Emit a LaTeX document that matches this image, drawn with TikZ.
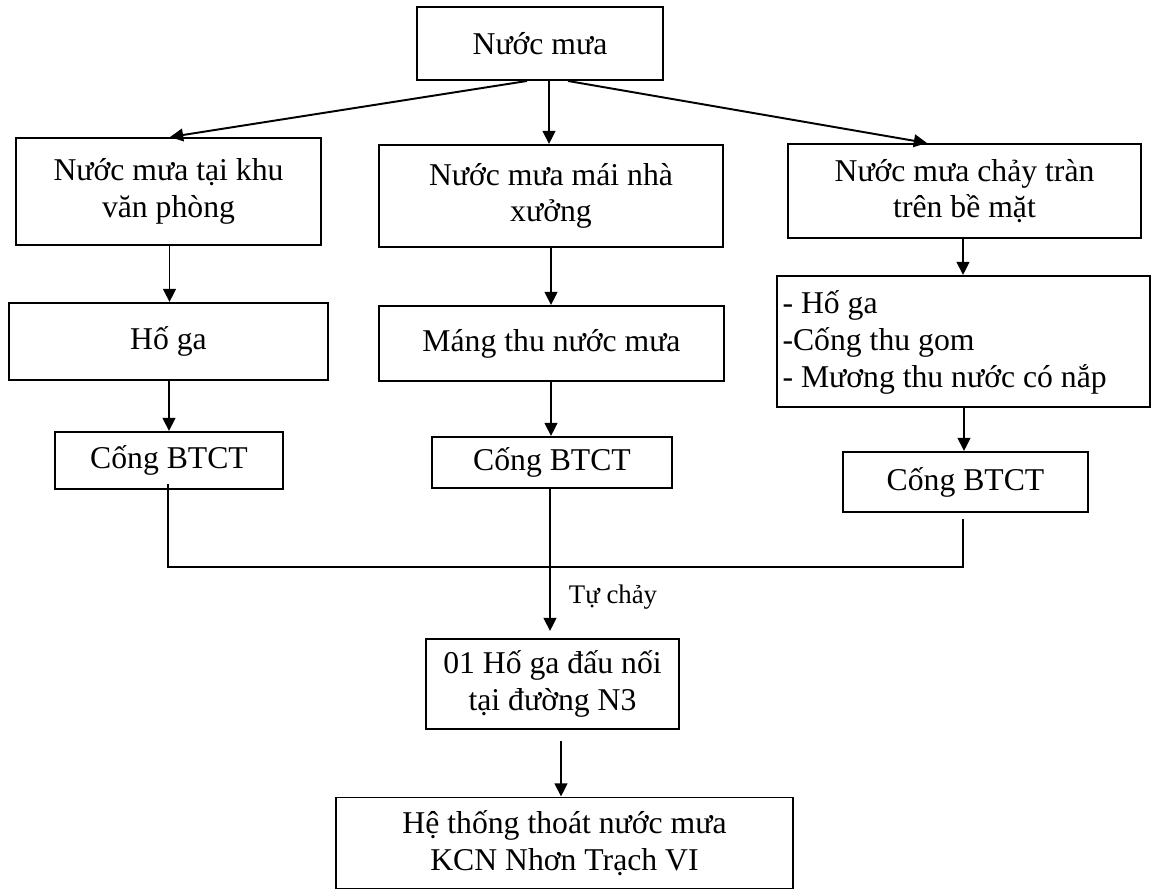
\documentclass[tikz,border=0pt]{standalone}
\usepackage{fontspec}
\setmainfont{Liberation Serif}
\usetikzlibrary{calc,arrows.meta}
% one drawing unit
\def\pxu{0.41pt}
\tikzset{
  flowbox/.style={draw, line width=0.8pt, align=center, inner sep=1pt,
    font=\fontsize{13}{15}\selectfont},
  flowtext/.style={align=left, inner sep=0pt, font=\fontsize{13}{15}\selectfont},
  flowarrow/.style={line width=0.8pt, -{Triangle[length=5.4pt,width=5.2pt]}},
  flowline/.style={line width=0.8pt},
  note/.style={font=\fontsize{11}{13}\selectfont, inner sep=0pt},
}
\begin{document}
\begin{tikzpicture}[x=\pxu, y=-\pxu]
\useasboundingbox (0,0) rectangle (1158,890);

% source
\node[flowbox, minimum width=246*\pxu, minimum height=73*\pxu] (rain) at (540,43.5) {Nước mưa};

% first row
\node[flowbox, minimum width=305*\pxu, minimum height=107*\pxu] (l1) at (168.5,191.5) {Nước mưa tại khu\\văn phòng};
\node[flowbox, minimum width=344*\pxu, minimum height=102*\pxu] (m1) at (551,196) {Nước mưa mái nhà\\xưởng};
\node[flowbox, minimum width=353*\pxu, minimum height=94*\pxu] (r1) at (964.5,191) {Nước mưa chảy tràn\\trên bề mặt};

% second row
\node[flowbox, minimum width=319*\pxu, minimum height=77*\pxu] (l2) at (168.5,341.5) {Hố ga};
\node[flowbox, minimum width=345*\pxu, minimum height=75*\pxu] (m2) at (551.5,343.5) {Máng thu nước mưa};
\node[flowbox, minimum width=373*\pxu, minimum height=131*\pxu] (r2) at (963.5,341.5) {};
\node[flowtext, anchor=west] (r2list) at ($(r2.west)+(6,1)$)
  {- Hố ga\\-Cống thu gom\\- Mương thu nước có nắp};

% third row
\node[flowbox, minimum width=228*\pxu, minimum height=57*\pxu] (l3) at (169,460.5) {Cống BTCT};
\node[flowbox, minimum width=240*\pxu, minimum height=51*\pxu] (m3) at (552,462.5) {Cống BTCT};
\node[flowbox, minimum width=245*\pxu, minimum height=60*\pxu] (r3) at (965.5,482) {Cống BTCT};

% collection and outlet
\node[flowbox, minimum width=253*\pxu, minimum height=90*\pxu] (n3) at (552.5,684) {01 Hố ga đấu nối\\tại đường N3};
\node[flowbox, minimum width=457*\pxu, minimum height=91*\pxu] (out) at (564.5,843) {Hệ thống thoát nước mưa\\KCN Nhơn Trạch VI};

% branches from the source
\draw[flowarrow] ($(rain.south)+(-13,0)$) -- ($(l1.north)+(1.5,0)$);
\draw[flowarrow] ($(rain.south)+(9,0)$) -- ($(m1.north)+(-2,0)$);
\draw[flowarrow] ($(rain.south)+(28,0)$) -- ($(r1.north)+(-37.5,0)$);

% columns
\draw[flowarrow] ($(l1.south)+(1,0)$) -- ($(l2.north)+(1,0)$);
\draw[flowarrow] ($(m1.south)+(0,0)$) -- ($(m2.north)+(-0.5,0)$);
\draw[flowarrow] ($(r1.south)+(-1.5,0)$) -- ($(r2.north)+(-0.5,0)$);
\draw[flowarrow] ($(l2.south)+(0.5,0)$) -- ($(l3.north)+(0,0)$);
\draw[flowarrow] ($(m2.south)+(-0.5,0)$) -- ($(m3.north)+(-1,0)$);
\draw[flowarrow] ($(r2.south)+(0.5,0)$) -- ($(r3.north)+(-1.5,0)$);

% common collector
\draw[flowline] ($(l3.south)+(-1,-6)$) |- ($(r3.south)+(-2.5,54)$) -- ($(r3.south)+(-2.5,6)$);
\draw[flowarrow] ($(m3.south)+(-2,0)$) -- ($(n3.north)+(-2.5,-7)$);
\node[note] (selfflow) at (613,597) {Tự chảy};

% to the park network
\draw[flowarrow] ($(n3.south)+(8.5,11)$) -- ($(out.north)+(-3.5,0)$);
\end{tikzpicture}
\end{document}
